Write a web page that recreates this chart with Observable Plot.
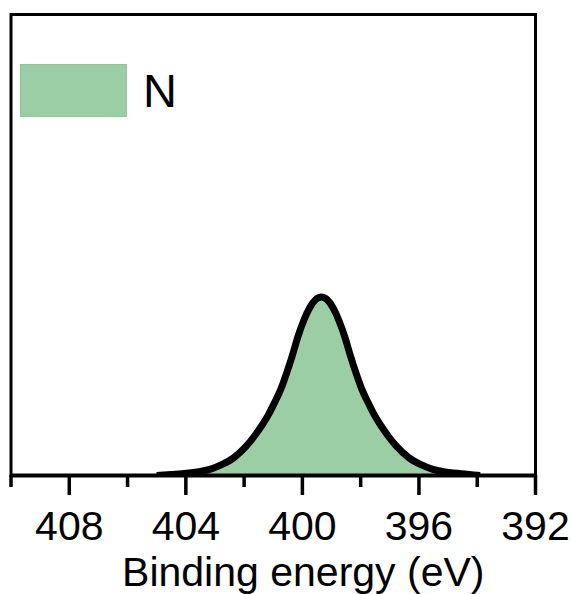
<!DOCTYPE html>
<html>
<head>
<meta charset="utf-8">
<script src="https://cdn.jsdelivr.net/npm/d3@7"></script>
<script src="https://cdn.jsdelivr.net/npm/@observablehq/plot@0.6"></script>
<style>
  html, body { margin: 0; padding: 0; background: #fff; }
  #wrap { position: relative; width: 572px; height: 594px; font-family: "Liberation Sans", Arial, sans-serif; }
  #legend { position: absolute; left: 20px; top: 64px; display: flex; align-items: center; }
  #legend .sw { width: 105px; height: 51px; border: 1px solid #8fc79b; }
  #legend .lb { margin-left: 16px; font-size: 47px; line-height: 47px; color: #000; }
</style>
</head>
<body>
<div id="wrap"></div>
<script>
// Binding energy (eV) and normalized N 1s intensity
const energy = [405.0, 404.5, 404.15, 403.55, 403.15, 402.75, 402.35, 401.95, 401.65, 401.35, 401.15, 400.95, 400.75, 400.55, 400.35, 400.15, 399.95, 399.75, 399.55, 399.35, 399.15, 398.95, 398.75, 398.55, 398.35, 398.15, 397.95, 397.75, 397.55, 397.35, 397.05, 396.75, 396.35, 395.95, 395.55, 395.15, 394.55, 393.9];
const intensity = [0, 0.006, 0.010, 0.022, 0.036, 0.062, 0.10, 0.16, 0.22, 0.29, 0.345, 0.41, 0.48, 0.57, 0.67, 0.78, 0.87, 0.94, 0.985, 1.0, 0.985, 0.94, 0.87, 0.78, 0.67, 0.57, 0.48, 0.41, 0.345, 0.29, 0.22, 0.16, 0.10, 0.062, 0.036, 0.022, 0.010, 0];
const majorTicks = [408, 404, 400, 396, 392];
const minorTicks = [410, 406, 402, 398, 394];
const seriesName = "N";
const xLabel = "Binding energy (eV)";

const fillColor = "#9ccea6";
const data = energy.map((e, i) => ({e, v: intensity[i]}));

const chart = Plot.plot({
  width: 572,
  height: 594,
  marginLeft: 10.5,
  marginRight: 37,
  marginTop: 14,
  marginBottom: 119,
  style: {fontFamily: '"Liberation Sans", Arial, sans-serif', background: "#fff", color: "#000"},
  x: {domain: [410, 392]},
  y: {domain: [0, 2.583], axis: null},
  marks: [
    Plot.areaY(data, {x: "e", y: "v", fill: fillColor, curve: "monotone-x"}),
    Plot.line(data, {x: "e", y: "v", stroke: "#000", strokeWidth: 7, curve: "monotone-x", strokeLinejoin: "round", strokeLinecap: "butt", clip: true}),
    Plot.frame({stroke: "#000", strokeWidth: 3}),
    Plot.ruleY([0], {stroke: "#000", strokeWidth: 4}),
    Plot.axisX(minorTicks, {tickSize: 12, tickFormat: () => "", label: null, strokeWidth: 3.5}),
    Plot.axisX(majorTicks, {tickSize: 20, tickPadding: 15, fontSize: 41, tickFormat: d => String(d), label: null, strokeWidth: 3.5}),
    Plot.text([xLabel], {frameAnchor: "bottom", dx: 30, dy: 97, fontSize: 41, lineAnchor: "middle", fill: "#000"})
  ]
});

const wrap = document.getElementById("wrap");
wrap.appendChild(chart);
const legend = document.createElement("div");
legend.id = "legend";
legend.innerHTML = `<div class="sw" style="background:${fillColor}"></div><div class="lb"></div>`;
legend.querySelector(".lb").textContent = seriesName;
wrap.appendChild(legend);
</script>
</body>
</html>
